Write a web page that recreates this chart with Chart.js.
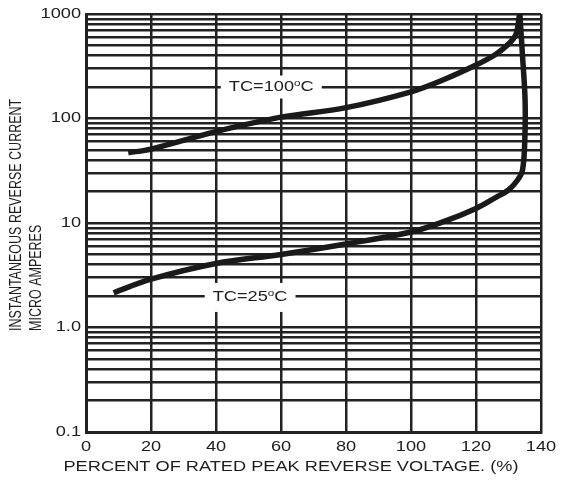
<!DOCTYPE html>
<html>
<head>
<meta charset="utf-8">
<script src="https://cdn.jsdelivr.net/npm/chart.js@4.4.1/dist/chart.umd.min.js"></script>
<style>
  body { margin: 0; background: #fff; }
  #wrap { width: 570px; height: 481px; }
</style>
</head>
<body>
<div id="wrap"><canvas id="myChart"></canvas></div>
<script>
'use strict';
// data
const hotX  = [13, 20, 40, 60, 80, 100, 110, 120, 126, 130, 132.3, 133.4];
const hotY  = [47, 51, 75, 103, 127, 180, 235, 325, 410, 516, 640, 1000];
const coldX = [8.5, 20, 40, 60, 80, 100, 110, 120, 126, 130, 132.8, 134.3, 135.0, 135.1, 134.2, 133.5];
const coldY = [2.15, 2.9, 4.1, 5.0, 6.3, 8.2, 10.3, 13.8, 17.5, 20.7, 25.8, 32, 60, 150, 450, 1000];
const xTicks = [0, 20, 40, 60, 80, 100, 120, 140];
const yTickValues = [0.1, 1, 10, 100, 1000];
const yTickLabels = ['0.1', '1.0', '10', '100', '1000'];
const curveNames = ['TC=100', 'TC=25'];

const SX = 1.3;       // the source text is wider than normal
const ink = '#1e1e1e';
const fontFamily = '"Liberation Sans", Arial, sans-serif';

function toPoints(xs, ys){
  const pts = [];
  for(let i = 0; i < xs.length; i++){
    pts.push({x: xs[i], y: ys[i]});
  }
  return pts;
}

function stretchText(ctx, txt, x, y, align){
  ctx.save();
  ctx.translate(x, y);
  ctx.scale(SX, 1);
  ctx.textAlign = align;
  ctx.fillText(txt, 0, 0);
  ctx.restore();
}

// curve labels: "TC=xx" + superscript o + "C" on a white box
const curveLabels = [
  {name: curveNames[0], x: 57, y: 200, h: 23},
  {name: curveNames[1], x: 50.5, y: 1.94, h: 29}
];

const labelPlugin = {
  id: 'labels',
  beforeDatasetsDraw(chart){
    const ctx = chart.ctx;
    const xs = chart.scales.x, ys = chart.scales.y;
    ctx.save();
    for(const lab of curveLabels){
      const cx = xs.getPixelForValue(lab.x);
      const cy = ys.getPixelForValue(lab.y);
      ctx.font = '14px ' + fontFamily;
      const w1 = ctx.measureText(lab.name).width;
      const wC = ctx.measureText('C').width;
      ctx.font = '9px ' + fontFamily;
      const wO = ctx.measureText('o').width;
      const total = (w1 + wO + wC) * SX;
      const pad = 8;
      ctx.fillStyle = '#fff';
      ctx.fillRect(cx - total / 2 - pad, cy - lab.h / 2, total + pad * 2, lab.h);
      ctx.fillStyle = ink;
      ctx.textBaseline = 'middle';
      let left = cx - total / 2;
      ctx.font = '14px ' + fontFamily;
      stretchText(ctx, lab.name, left, cy, 'left');
      left += w1 * SX;
      ctx.font = '9px ' + fontFamily;
      stretchText(ctx, 'o', left, cy - 4, 'left');
      left += wO * SX;
      ctx.font = '14px ' + fontFamily;
      stretchText(ctx, 'C', left, cy, 'left');
    }
    ctx.restore();
  },
  afterDraw(chart){
    const ctx = chart.ctx;
    const xs = chart.scales.x, ys = chart.scales.y;
    ctx.save();
    ctx.fillStyle = ink;
    ctx.font = '14px ' + fontFamily;
    ctx.textBaseline = 'middle';
    // y tick labels
    for(let i = 0; i < yTickValues.length; i++){
      stretchText(ctx, yTickLabels[i], 81, ys.getPixelForValue(yTickValues[i]), 'right');
    }
    // x tick labels
    for(let i = 0; i < xTicks.length; i++){
      stretchText(ctx, String(xTicks[i]), xs.getPixelForValue(xTicks[i]), 447, 'center');
    }
    // x title
    stretchText(ctx, 'PERCENT OF RATED PEAK REVERSE VOLTAGE. (%)', 291, 467, 'center');
    // y title, two lines starting at the bottom
    ctx.font = '12.5px ' + fontFamily;
    const yLines = ['INSTANTANEOUS REVERSE CURRENT', 'MICRO AMPERES'];
    const lineX = [17, 37];
    for(let i = 0; i < yLines.length; i++){
      ctx.save();
      ctx.translate(lineX[i], 331);
      ctx.scale(SX, 1);
      ctx.rotate(-Math.PI / 2);
      ctx.textAlign = 'left';
      ctx.fillText(yLines[i], 0, 0);
      ctx.restore();
    }
    ctx.restore();
  }
};

const gridStyle = {color: '#222', lineWidth: 2.5, drawTicks: false};

const chart = new Chart(document.getElementById('myChart').getContext('2d'), {
  type: 'scatter',
  data: {
    datasets: [
      {label: curveNames[0], data: toPoints(hotX, hotY)},
      {label: curveNames[1], data: toPoints(coldX, coldY)}
    ]
  },
  options: {
    responsive: true,
    maintainAspectRatio: false,
    animation: false,
    layout: {padding: {left: 0, top: 14, right: 29, bottom: 0}},
    elements: {
      point: {radius: 0},
      line: {borderColor: '#1a1a1a', borderWidth: 5.5, tension: 0.35, borderCapStyle: 'butt'}
    },
    datasets: {scatter: {showLine: true}},
    plugins: {legend: {display: false}, tooltip: {enabled: false}},
    scales: {
      x: {
        type: 'linear', min: 0, max: 140,
        grid: gridStyle,
        border: {color: '#222', width: 3},
        ticks: {stepSize: 20, display: false},
        afterFit(scale){ scale.height = 49; }
      },
      y: {
        type: 'logarithmic', min: 0.1, max: 1000,
        grid: gridStyle,
        border: {color: '#222', width: 3},
        ticks: {display: false, autoSkip: false},
        afterBuildTicks(scale){
          const list = [];
          for(let e = -1; e < 3; e++){
            for(let m = 1; m < 10; m++){
              list.push({value: Number((m * Math.pow(10, e)).toPrecision(3))});
            }
          }
          list.push({value: 1000});
          scale.ticks = list;
        },
        afterFit(scale){ scale.width = 86; }
      }
    }
  },
  plugins: [labelPlugin]
});
</script>
</body>
</html>
